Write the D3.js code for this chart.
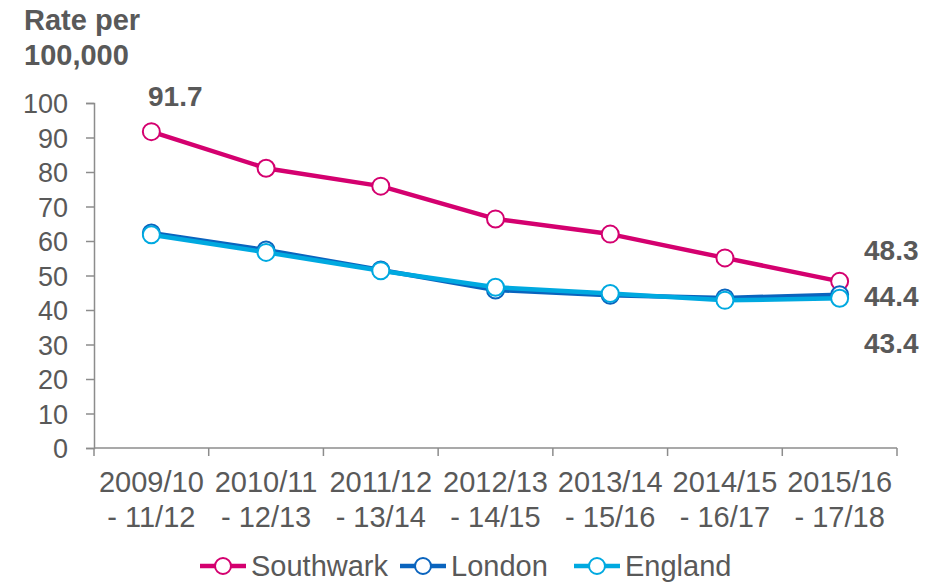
<!DOCTYPE html>
<html>
<head>
<meta charset="utf-8">
<script src="https://cdn.jsdelivr.net/npm/d3@7"></script>
<style>
  body { margin: 0; background: #fff; }
  svg { display: block; font-family: 'Liberation Sans', Arial, sans-serif; }
</style>
</head>
<body>
<div id="chart"></div>
<script>
// ── Data ──
var periods = ['2009/10 - 11/12', '2010/11 - 12/13', '2011/12 - 13/14', '2012/13 - 14/15',
  '2013/14 - 15/16', '2014/15 - 16/17', '2015/16 - 17/18'];
var southwark = [91.7, 81.1, 75.9, 66.4, 62.0, 55.1, 48.3];
var london = [62.3, 57.4, 51.6, 45.8, 44.3, 43.5, 44.4];
var england = [61.8, 56.7, 51.4, 46.6, 44.8, 42.8, 43.4];
var yTicks = [0, 10, 20, 30, 40, 50, 60, 70, 80, 90, 100];

// drawing order: England on top
var series = [
  { name: 'Southwark', values: southwark, color: '#D4006F' },
  { name: 'London', values: london, color: '#0A64BE' },
  { name: 'England', values: england, color: '#00A9E0' }
];

var TEXT = '#595959';
var AXIS = '#8c8c8c';
var FONT = "'Liberation Sans', Arial, sans-serif";
var W = 941, H = 582;

var svg = d3.select('#chart').append('svg').attr('width', W).attr('height', H);

var x = d3.scaleBand().domain(periods).range([94, 897]);
var y = d3.scaleLinear().domain([0, 100]).range([448, 103]);
function cx(i) { return x(periods[i]) + x.bandwidth() / 2; }

// ── Title ──
svg.append('text').attr('x', 24).attr('y', 30).attr('font-size', 29).attr('font-weight', 'bold')
  .attr('fill', TEXT).text('Rate per');
svg.append('text').attr('x', 24).attr('y', 65).attr('font-size', 29).attr('font-weight', 'bold')
  .attr('fill', TEXT).text('100,000');

// ── Y axis ──
var yAxis = svg.append('g').attr('transform', 'translate(94,0)')
  .call(d3.axisLeft(y).tickValues(yTicks).tickSize(8).tickPadding(18));
yAxis.select('.domain').attr('stroke', AXIS).attr('stroke-width', 1.5);
yAxis.selectAll('.tick line').attr('stroke', AXIS).attr('stroke-width', 1.5);
yAxis.selectAll('.tick text').attr('font-size', 27).attr('fill', TEXT)
  .attr('font-family', FONT).attr('dy', '0.36em');

// ── X axis ──
var xAxisG = svg.append('g').attr('transform', 'translate(0,448)');
xAxisG.append('line').attr('x1', 94).attr('x2', 897).attr('stroke', AXIS).attr('stroke-width', 1.5);
var bounds = periods.map(function (p) { return x(p); }).concat([x.range()[1]]);
xAxisG.selectAll('.xtick').data(bounds).join('line')
  .attr('x1', function (d) { return d; }).attr('x2', function (d) { return d; })
  .attr('y1', 0).attr('y2', 8).attr('stroke', AXIS).attr('stroke-width', 1.5);
var xl = xAxisG.selectAll('.xlabel').data(periods).join('text')
  .attr('text-anchor', 'middle').attr('font-size', 29).attr('fill', TEXT);
xl.append('tspan').attr('x', function (d, i) { return cx(i); }).attr('y', 44)
  .text(function (d) { return d.split(' - ')[0]; });
xl.append('tspan').attr('x', function (d, i) { return cx(i); }).attr('y', 79)
  .text(function (d) { return '- ' + d.split(' - ')[1]; });

// ── Lines ──
var line = d3.line()
  .x(function (d, i) { return cx(i); })
  .y(function (d) { return y(d); });

series.forEach(function (s) {
  var g = svg.append('g');
  g.append('path').datum(s.values).attr('d', line).attr('fill', 'none')
    .attr('stroke', s.color).attr('stroke-width', 4.5).attr('stroke-linejoin', 'round');
  g.selectAll('circle').data(s.values).join('circle')
    .attr('cx', function (d, i) { return cx(i); })
    .attr('cy', function (d) { return y(d); })
    .attr('r', 8.5).attr('fill', '#fff').attr('stroke', s.color).attr('stroke-width', 2);
});

// ── Value labels ──
svg.append('text').attr('x', 148).attr('y', 106)
  .attr('font-size', 28).attr('font-weight', 'bold').attr('fill', TEXT)
  .text(southwark[0]);
var endLabels = [
  { v: southwark[6], y: 260 },
  { v: london[6], y: 306 },
  { v: england[6], y: 353 }
];
svg.selectAll('.endlabel').data(endLabels).join('text')
  .attr('x', 864).attr('y', function (d) { return d.y; })
  .attr('font-size', 28).attr('font-weight', 'bold').attr('fill', TEXT)
  .text(function (d) { return d.v.toFixed(1); });

// ── Legend ──
var legendX = [200, 400, 574];
var lg = svg.selectAll('.legend').data(series).join('g')
  .attr('transform', function (d, i) { return 'translate(' + legendX[i] + ',566)'; });
lg.append('line').attr('x1', 0).attr('x2', 46)
  .attr('stroke', function (d) { return d.color; })
  .attr('stroke-width', 4.5);
lg.append('circle').attr('cx', 23).attr('r', 8).attr('fill', '#fff').attr('stroke-width', 2)
  .attr('stroke', function (d) { return d.color; });
lg.append('text').attr('x', 51).attr('y', 10).attr('font-size', 29).attr('fill', TEXT)
  .text(function (d) { return d.name; });
</script>
</body>
</html>
